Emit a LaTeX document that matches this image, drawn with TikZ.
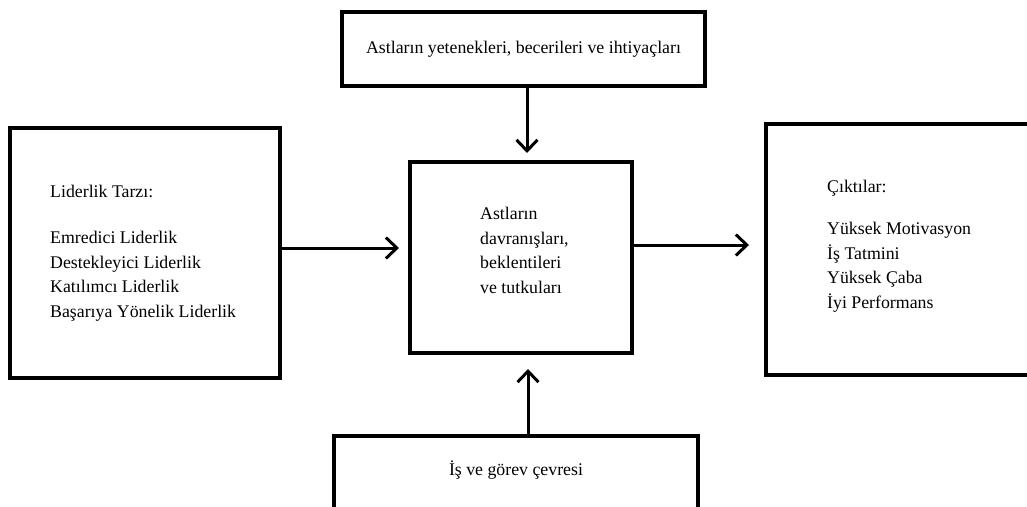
\documentclass[tikz,border=0pt]{standalone}
\usepackage{fontspec}
\setmainfont{Liberation Serif}
\usetikzlibrary{arrows.meta}
\begin{document}
\begin{tikzpicture}[x=1pt,y=-1pt,
  box/.style={draw=black, line width=4pt, fill=white, inner sep=0pt},
  body/.style={font=\fontsize{17.8}{24.5}\selectfont},
  txt/.style={body, align=left, inner sep=0pt, anchor=north west},
  arr/.style={line width=3pt, -{Straight Barb[length=11pt,width=21pt]}}]
\useasboundingbox (0,0) rectangle (1027,506);
\fill[white] (0,0) rectangle (1027,506);

% frames
\node[box, body, minimum width=363pt, minimum height=74pt] (skills) at (523.5,49)
  {Astların yetenekleri, becerileri ve ihtiyaçları};
\node[box, minimum width=270pt, minimum height=250pt] (lead) at (145,253) {};
\node[box, minimum width=222pt, minimum height=191pt] (core) at (521,257.5) {};
\node[box, minimum width=334pt, minimum height=251pt] (out) at (933,249.5) {};
\node[box, minimum width=364pt, minimum height=124pt] (env) at (516,498) {};

% texts inside the frames
\node[txt] (leadtxt) at (50,185) {Liderlik Tarzı:\\[21.5pt]
  Emredici Liderlik\\ Destekleyici Liderlik\\ Katılımcı Liderlik\\ Başarıya Yönelik Liderlik};
\node[txt] (coretxt) at (480,207) {Astların\\ davranışları,\\ beklentileri\\ ve tutkuları};
\node[txt] (outtxt) at (827,180) {Çıktılar:\\[17.5pt]
  Yüksek Motivasyon\\ İş Tatmini\\ Yüksek Çaba\\ İyi Performans};
\node[body, inner sep=0pt] (envtxt) at (516,470) {İş ve görev çevresi};

% connectors
\draw[arr] ([xshift=3.5pt]skills.south) -- ([xshift=6pt,yshift=7pt]core.north);
\draw[arr] ([yshift=5pt]lead.east) -- ([xshift=-9pt,yshift=9.5pt]core.west);
\draw[arr] ([yshift=12.5pt]core.east) -- ([xshift=-15pt,yshift=4.5pt]out.west);
\draw[arr] ([xshift=12pt]env.north) -- ([xshift=7pt,yshift=-14pt]core.south);
\end{tikzpicture}
\end{document}
